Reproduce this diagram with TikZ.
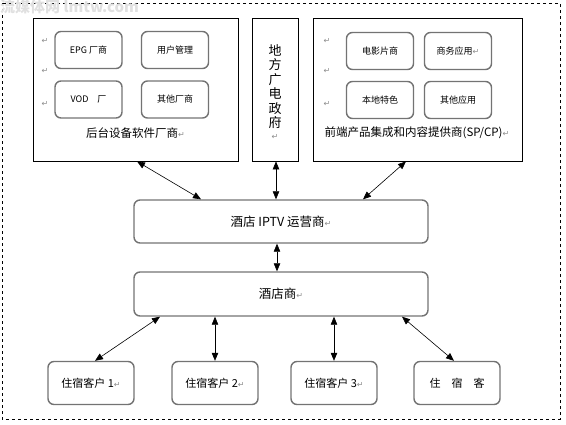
\documentclass[tikz,border=0pt]{standalone}
\usepackage{fontspec}
\newfontfamily\cjk{Noto Sans CJK SC}
\newfontfamily\markfont{DejaVu Sans}
\usetikzlibrary{arrows.meta}
\newcommand{\pmark}{{\markfont\color{black!45}\fontsize{8}{8}\selectfont ↵}}

\tikzset{
	frame/.style={draw=black, line width=0.8pt, inner sep=0pt},
	rbox/.style={draw=black!55, line width=1.4pt, rounded corners=6pt, inner sep=0pt, font=\cjk\fontsize{12}{12}\selectfont},
	sbox/.style={rbox, minimum width=67pt, minimum height=37pt, font=\cjk\fontsize{9}{9}\selectfont},
	gbox/.style={rbox, minimum width=86pt, minimum height=43pt, font=\cjk\fontsize{11}{11}\selectfont},
	lbl/.style={inner sep=0pt, font=\cjk\fontsize{11.5}{11.5}\selectfont},
	link/.style={{Triangle[width=6.5pt,length=8pt]}-{Triangle[width=6.5pt,length=8pt]}, line width=0.6pt},
}

\begin{document}
\begin{tikzpicture}[x=1pt, y=-1pt]
			%%%%% START %%%%%
			\useasboundingbox (0, 0) rectangle (566, 424);
			\draw[dashed, line width=0.7pt] (2, 3) rectangle (560, 419);
			\node[anchor=west, inner sep=0pt, text=black!12, font=\cjk\bfseries\fontsize{15}{15}\selectfont] (wm) at (0, 7) {流媒体网 lmtw.com};
			
			% top row
			\node[frame, minimum width=205pt, minimum height=143pt] (back) at (135.5, 89.5) {};
			\node[frame, minimum width=46pt, minimum height=143pt] (gov) at (275, 89.5) {};
			\node[frame, minimum width=209pt, minimum height=143pt] (front) at (417.5, 89.5) {};
			
			\node[sbox] (epg) at (88.5, 50) {EPG 厂商};
			\node[sbox] (user) at (175, 50) {用户管理};
			\node[sbox] (vod) at (88.5, 99.5) {VOD\quad 厂};
			\node[sbox] (other) at (175, 99.5) {其他厂商};
			\node[lbl] (backlbl) at (135.5, 133) {后台设备软件厂商\pmark};
			
			\node[inner sep=0pt, align=center, font=\cjk\fontsize{13}{14.5}\selectfont] (govlbl) at (275, 92) {地\\方\\广\\电\\政\\府\\[-3pt]\pmark};
			
			\node[sbox] (film) at (380, 51) {电影片商};
			\node[sbox] (biz) at (458, 51) {商务应用\pmark};
			\node[sbox] (local) at (380, 100) {本地特色};
			\node[sbox] (apps) at (458, 100) {其他应用};
			\node[lbl] (frontlbl) at (417, 133) {前端产品集成和内容提供商(SP/CP)\pmark};
			
			\foreach \y [count=\i] in {41, 71, 104} {
				\node[inner sep=0pt] (pl\i) at (45, \y) {\pmark};
				\node[inner sep=0pt] (pr\i) at (327, \y) {\pmark};
			}
			
			% middle
			\node[rbox, minimum width=294pt, minimum height=43pt, font=\cjk\fontsize{12.5}{12.5}\selectfont] (op) at (281, 221.5) {酒店 IPTV 运营商\pmark};
			\node[rbox, minimum width=294pt, minimum height=44pt, font=\cjk\fontsize{12.5}{12.5}\selectfont] (hotel) at (281, 294) {酒店商\pmark};
			
			% guests
			\node[gbox] (g1) at (91, 383) {住宿客户 1\pmark};
			\node[gbox] (g2) at (215, 383) {住宿客户 2\pmark};
			\node[gbox] (g3) at (334, 383) {住宿客户 3\pmark};
			\node[gbox] (g4) at (457, 383) {住\quad 宿\quad 客};
			
			% links
			\draw[link] ([xshift=1.5pt]back.south) -- ([xshift=-80pt]op.north);
			\draw[link] ([xshift=1pt]gov.south) -- ([xshift=-5pt]op.north);
			\draw[link] ([xshift=-11.5pt]front.south) -- ([xshift=82pt]op.north);
			\draw[link] ([xshift=-4pt]op.south) -- ([xshift=-4pt]hotel.north);
			\draw[link] ([xshift=-121pt]hotel.south) -- ([xshift=4pt]g1.north);
			\draw[link] ([xshift=-66pt]hotel.south) -- (g2.north);
			\draw[link] ([xshift=53pt]hotel.south) -- (g3.north);
			\draw[link] ([xshift=121pt]hotel.south) -- ([xshift=-3pt]g4.north);
			%%%%% END %%%%%
\end{tikzpicture}
\end{document}
